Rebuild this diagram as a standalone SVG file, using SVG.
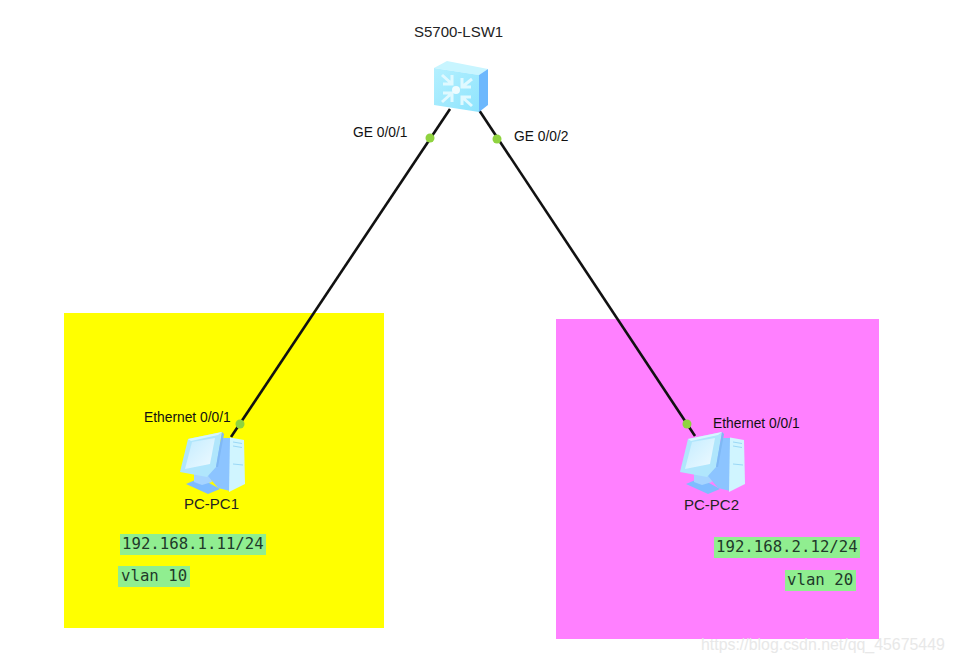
<svg xmlns="http://www.w3.org/2000/svg" width="954" height="662" viewBox="0 0 954 662">
<style>
.lb{font-family:"Liberation Sans",Arial,sans-serif;font-size:15px;fill:#222}
.pl{font-family:"Liberation Sans",Arial,sans-serif;font-size:13.8px;fill:#111}
.mn{font-family:"DejaVu Sans Mono","Liberation Mono",monospace;font-size:15.7px;fill:#1f3a2a}
.tag{fill:#90ee90}
.dot{fill:#8fd33f}
.lk{stroke:#111;stroke-width:2.6;fill:none}
</style>
<defs>
<linearGradient id="scr" x1="0" y1="0" x2="1" y2="1"><stop offset="0" stop-color="#c4ecff"/><stop offset="1" stop-color="#eefaff"/></linearGradient>
<linearGradient id="sw" x1="0" y1="0" x2="1" y2="1"><stop offset="0" stop-color="#b4f0ff"/><stop offset="1" stop-color="#8fe4fd"/></linearGradient>
<g id="pc">
<polygon points="6,52 20,46 40,57 28,62" fill="#7fbcff"/>
<polygon points="14,40 30,43 32,50 22,53 14,50" fill="#a6d4ff"/>
<polygon points="42,6 52,6 50,59 38,56 28,44" fill="#8cc4ff"/>
<polygon points="50,5.500 64,8 65,52 49,60" fill="#d0f5ff"/>
<path d="M53,10l9,1.500M53,14l9,1.500M53,32l10,1" stroke="#9ad8f6" stroke-width="1" fill="none"/>
<polygon points="8,7 42,0 36,35 27,45 0,40" fill="#b0e6fc"/>
<polygon points="8,7 42,0 38,3 11,9" fill="#d8f6ff"/>
<polygon points="12,10 35,6 30,32 5,37" fill="url(#scr)"/>
<polygon points="42,0 44,2 38,35 36,35" fill="#7fb8f5"/>
</g>
</defs>
<rect x="64" y="313" width="320" height="315" fill="#ffff00"/>
<rect x="556" y="319" width="323" height="320" fill="#ff80ff"/>
<g id="connectors">
<line class="lk" x1="450" y1="109" x2="231" y2="437"/>
<line class="lk" x1="479" y1="110" x2="695" y2="436"/>
<circle class="dot" cx="430" cy="138" r="4.500"/>
<circle class="dot" cx="497" cy="139" r="4.500"/>
<circle class="dot" cx="240" cy="424" r="4.500"/>
<circle class="dot" cx="687" cy="424" r="4.500"/>
</g>
<g id="node-lsw1">
<polygon points="434,68 447,61 488,69 479,75" fill="#c8f5ff"/>
<polygon points="434,68 479,75 479,112 434,105" fill="url(#sw)"/>
<polygon points="479,75 488,69 488,105 479,112" fill="#6db8fd"/>
<g stroke="#e0f9ff" stroke-width="3" fill="none">
<path d="M442,75l10,9M452,75v9h-9M472,79l-10,8M462,78v9h9M442,102l10,-9M452,102v-9h-9M472,106l-10,-9M462,105v-8h9"/>
</g>
<circle cx="456" cy="90" r="4" fill="#eefcff"/>
<text class="lb" x="414" y="37">S5700-LSW1</text>
</g>
<g id="node-pc1">
<use href="#pc" x="180" y="432"/>
<text class="lb" x="184" y="509">PC-PC1</text>
</g>
<g id="node-pc2">
<use href="#pc" x="680" y="432"/>
<text class="lb" x="684" y="510">PC-PC2</text>
</g>
<g id="labels">
<text class="pl" x="353" y="137">GE 0/0/1</text>
<text class="pl" x="514" y="141">GE 0/0/2</text>
<text class="pl" x="144" y="422">Ethernet 0/0/1</text>
<text class="pl" x="713" y="428">Ethernet 0/0/1</text>
<rect class="tag" x="120" y="534" width="146" height="21"/>
<text class="mn" x="122" y="549">192.168.1.11/24</text>
<rect class="tag" x="118" y="566" width="72" height="21"/>
<text class="mn" x="121" y="581">vlan 10</text>
<rect class="tag" x="714" y="537" width="146" height="21"/>
<text class="mn" x="716" y="552">192.168.2.12/24</text>
<rect class="tag" x="785" y="570" width="71" height="21"/>
<text class="mn" x="787" y="585">vlan 20</text>
</g>
<text x="701" y="650" font-family="Liberation Sans, Arial, sans-serif" font-size="15.900" fill="#e6e6e6" opacity="0.9">https://blog.csdn.net/qq_45675449</text>
</svg>
